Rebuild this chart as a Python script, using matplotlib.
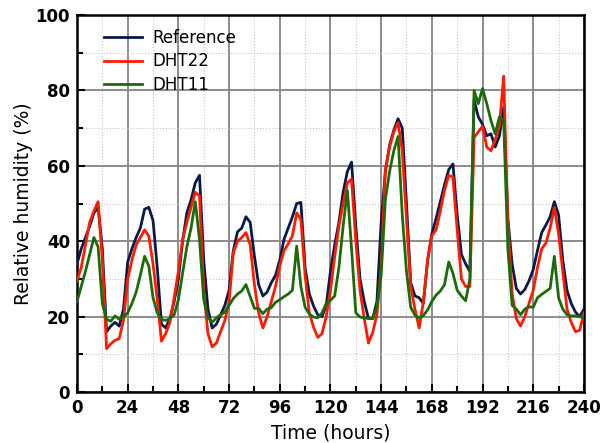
import numpy as np
import matplotlib
matplotlib.use("Agg")
import matplotlib.pyplot as plt
from matplotlib.ticker import MultipleLocator

# time axis: readings every 2 hours, 0..240
hours = np.arange(0, 241, 2)

reference = [
    34, 38, 41, 44, 47.5, 49, 38, 16, 17.5, 18.5, 17.5, 22,          # 0-22
    34.5, 38, 41, 43.5, 48.5, 49, 45.5, 33, 18, 17, 19.5, 24,        # 24-46
    30, 40, 47.5, 51, 55.5, 57.5, 35, 22, 17, 18, 20.5, 23,          # 48-70
    27, 37.5, 42.5, 43.5, 46.5, 45, 36, 28.5, 25.5, 26.5, 29, 31,    # 72-94
    35, 40.5, 43.5, 46.5, 50, 50.3, 33, 26, 22.8, 20.5, 20, 23,      # 96-118
    32, 39, 45, 53, 58.5, 61, 44, 30, 24, 19.5, 19.5, 24,            # 120-142
    45, 58.5, 65.5, 69.5, 72.5, 70, 50, 29, 25.5, 25, 23.5, 35,      # 144-166
    42, 46, 50.5, 55, 59, 60.5, 47, 36.5, 34, 32,                    # 168-186
    77.5, 73, 71, 68, 68.5, 65, 68, 75.5,                            # 188-202
    46, 34, 27.5, 26, 27.2, 29.5, 32.5, 37.5, 42.3, 44.3, 46.5, 50.5, # 204-226
    47, 35, 27, 23.5, 21.2, 20, 22,                                  # 228-240
]

dht22 = [
    29.5, 33, 39, 45, 48, 50.5, 35, 11.5, 12.8, 13.7, 14.2, 19,
    30, 35, 39, 41, 43, 41.4, 34, 24.5, 13.5, 15.5, 18.5, 25,
    32, 40.5, 45, 49, 53, 52, 27, 15.5, 12, 13, 16, 19,
    24, 37, 40, 41, 42.3, 39, 28.5, 21, 17, 20, 24, 28,
    33.5, 37.5, 39.3, 41.5, 47.5, 45.8, 31, 21, 17.2, 14.5, 15.5, 20,
    27, 36, 44, 50, 55.5, 56.5, 40, 27, 19.5, 13, 15.8, 20.5,
    33, 59, 65, 69, 71.5, 64, 45.8, 28, 22, 17, 24, 35,
    41.5, 43, 48, 53.5, 57.5, 57, 43, 30, 28, 28,
    67.5, 69, 70.5, 65, 64, 67, 70.5, 83.8,
    45, 26.3, 19.5, 17.5, 20, 23.5, 27, 33, 38, 39.5, 43.5, 49,
    42, 32, 22, 18.5, 16, 16.4, 21,
]

dht11 = [
    24, 28, 32, 36.5, 41, 38.5, 23.5, 19.3, 18.8, 20.2, 19.3, 20,
    21, 23.5, 26.5, 31, 36, 33.4, 25, 21, 19.3, 19, 19.5, 20.5,
    24.5, 31.5, 38.5, 43.5, 50.5, 40.5, 24.5, 19.8, 18.5, 19.7, 20.5, 21.2,
    23, 24.8, 26, 26.8, 28.5, 25.3, 22.2, 22.2, 20.8, 22, 22.4, 23.8,
    24.5, 25.3, 26, 27, 38.7, 28, 22.5, 20.7, 19.9, 19.7, 21, 23.5,
    24.3, 25.5, 33, 44, 53.5, 38, 21, 19.9, 19.7, 19.5, 19.5, 22.5,
    31, 51, 58.5, 64, 67.8, 47, 32, 22.5, 20.4, 19.7, 20.3, 21.8,
    24, 25.7, 26.8, 28.5, 34.5, 31.5, 27, 25.5, 24.2, 30,
    80, 76.5, 80.5, 76.5, 72, 68.5, 73, 72,
    38, 23, 22, 20.5, 22, 22.6, 22.5, 25, 25.9, 26.7, 27.5, 36,
    25, 22, 20.5, 20.2, 20.2, 20, 19.7,
]

series_labels = ["Reference", "DHT22", "DHT11"]
series_colors = ["#0b1a45", "#ff1a00", "#1d6a0a"]

plt.rcParams['font.family'] = ['DejaVu Sans']

fig = plt.figure(figsize=(6.14, 4.43), dpi=100)
ax = fig.add_axes([0.1254, 0.115, 0.951 - 0.1254, 0.966 - 0.115])

for vals, lab, col in zip([reference, dht22, dht11], series_labels, series_colors):
    ax.plot(hours, vals, color=col, lw=2.0, label=lab, zorder=3)

ax.set_xlim(0, 240)
ax.set_ylim(0, 100)
ax.xaxis.set_major_locator(MultipleLocator(24))
ax.xaxis.set_minor_locator(MultipleLocator(12))
ax.yaxis.set_major_locator(MultipleLocator(20))
ax.yaxis.set_minor_locator(MultipleLocator(10))

ax.grid(which='major', color='#8c8c8c', lw=1.4, zorder=0)
ax.grid(which='minor', color='#c8c8c8', lw=0.8, ls=':', zorder=0)

ax.tick_params(which='both', direction='in', top=False, right=False,
               labelsize=12, width=1.5, pad=5)
ax.tick_params(which='major', length=6)
ax.tick_params(which='minor', length=4)
for lbl in ax.get_xticklabels() + ax.get_yticklabels():
    lbl.set_fontweight('bold')

for s in ax.spines.values():
    s.set_linewidth(1.8)
    s.set_color('black')

ax.set_xlabel('Time (hours)', fontsize=13.5, labelpad=5)
ax.set_ylabel('Relative humidity (%)', fontsize=13.5, labelpad=2)

leg = ax.legend(loc='upper left', frameon=False, fontsize=12,
                handlelength=2.3, handletextpad=0.6, labelspacing=0.35,
                bbox_to_anchor=(0.03, 0.995), borderaxespad=0.3)

fig.savefig('out.png', dpi=100)
